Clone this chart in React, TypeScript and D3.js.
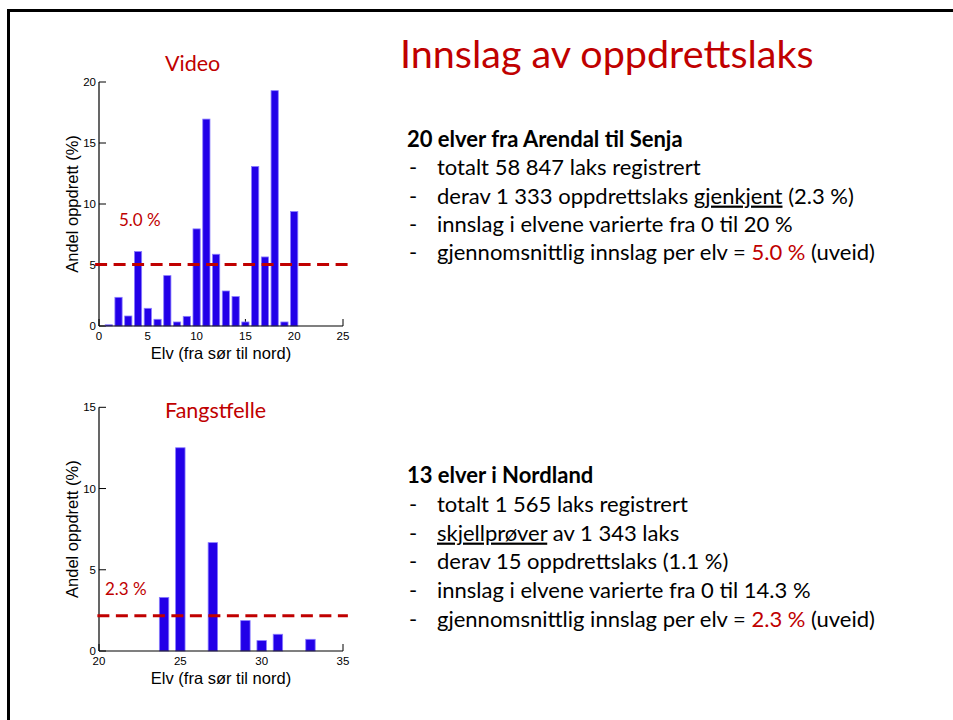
import React from "react";
import * as d3 from "d3";

// ---- Data ----
const videoRivers = [1, 2, 3, 4, 5, 6, 7, 8, 9, 10, 11, 12, 13, 14, 15, 16, 17, 18, 19, 20];
const videoValues = [0.1, 2.35, 0.82, 6.1, 1.45, 0.55, 4.13, 0.33, 0.79, 7.96, 16.96, 5.88, 2.87, 2.41, 0.33, 13.08, 5.66, 19.29, 0.33, 9.38];
const videoMean = 5.05;
const videoXTicks = [0, 5, 10, 15, 20, 25];
const videoYTicks = [0, 5, 10, 15, 20];

const trapRivers = [21, 22, 23, 24, 25, 26, 27, 28, 29, 30, 31, 32, 33];
const trapValues = [0, 0, 0, 3.3, 12.51, 0, 6.67, 0, 1.87, 0.64, 1.03, 0, 0.72];
const trapMean = 2.17;
const trapXTicks = [20, 25, 30, 35];
const trapYTicks = [0, 5, 10, 15];

const slideTitle = "Innslag av oppdrettslaks";

const block1Heading = "20 elver fra Arendal til Senja";
const block2Heading = "13 elver i Nordland";

const RED = "#c00000";
const BAR = "#2200e8";
const BAR_EDGE = "#8a7cff";
const SLIDE_FONT = "Lato, 'Open Sans', sans-serif";
const AX_FONT = "'Liberation Sans', Arial, sans-serif";

type ChartProps = {
  rivers: number[];
  values: number[];
  mean: number;
  xDomain: [number, number];
  yDomain: [number, number];
  xTicks: number[];
  yTicks: number[];
  yRange: [number, number];
  barWidth: number;
  meanFrom: number;
  meanTo: number;
  title: string;
  titleY: number;
  meanLabel: string;
  meanLabelPos: [number, number];
};

function BarChart(p: ChartProps) {
  const x = d3.scaleLinear().domain(p.xDomain).range([99, 343]);
  const y = d3.scaleLinear().domain(p.yDomain).range(p.yRange);
  const y0 = y(0);
  const bw = x(p.xDomain[0] + p.barWidth) - x(p.xDomain[0]);
  const tickLen = 7;
  const yMid = (p.yRange[0] + p.yRange[1]) / 2;
  return (
    <g>
      {/* ticks (under bars) */}
      {p.yTicks.map((t) => (
        <g key={"yt" + t}>
          <line x1={99} x2={99 + tickLen} y1={y(t)} y2={y(t)} stroke="#000" strokeWidth={1} />
          <text x={96} y={y(t)} dy="0.35em" textAnchor="end" fontFamily={AX_FONT} fontSize={11.5} fill="#000">
            {t}
          </text>
        </g>
      ))}
      {p.xTicks.map((t) => (
        <g key={"xt" + t}>
          <line x1={x(t)} x2={x(t)} y1={y0} y2={y0 - tickLen} stroke="#000" strokeWidth={1} />
          <text x={x(t)} y={y0 + 14} textAnchor="middle" fontFamily={AX_FONT} fontSize={11.5} fill="#000">
            {t}
          </text>
        </g>
      ))}
      {/* bars */}
      {p.rivers.map((r, i) => {
        const v = p.values[i];
        const top = y(v);
        return (
          <rect
            key={"b" + r}
            x={x(r) - bw / 2}
            y={top}
            width={bw}
            height={Math.max(0, y0 - top)}
            fill={BAR}
            stroke={BAR_EDGE}
            strokeWidth={0.8}
          />
        );
      })}
      {/* axis lines */}
      <line x1={99} x2={343} y1={y0} y2={y0} stroke="#000" strokeWidth={1.2} />
      <line x1={99} x2={99} y1={y0} y2={y(p.yDomain[1])} stroke="#000" strokeWidth={1.2} />
      {/* mean line */}
      <line
        x1={x(p.meanFrom)}
        x2={x(p.meanTo)}
        y1={y(p.mean)}
        y2={y(p.mean)}
        stroke={RED}
        strokeWidth={3}
        strokeDasharray="12,6.5"
      />
      <text x={p.meanLabelPos[0]} y={p.meanLabelPos[1]} fontFamily={SLIDE_FONT} fontSize={17} fill={RED}>
        {p.meanLabel}
      </text>
      {/* title */}
      <text x={165} y={p.titleY} fontFamily={SLIDE_FONT} fontSize={21.5} fill={RED}>
        {p.title}
      </text>
      {/* axis labels */}
      <text
        x={221}
        y={y0 + 33}
        textAnchor="middle"
        fontFamily={AX_FONT}
        fontSize={16.5}
        fill="#000"
      >
        Elv (fra sør til nord)
      </text>
      <text
        transform={`translate(78,${yMid}) rotate(-90)`}
        textAnchor="middle"
        fontFamily={AX_FONT}
        fontSize={16.5}
        fill="#000"
      >
        Andel oppdrett (%)
      </text>
    </g>
  );
}

function Bullet({ y, children }: { y: number; children: React.ReactNode }) {
  return (
    <g>
      <text x={409} y={y} fontFamily={SLIDE_FONT} fontSize={22} fill="#000">
        -
      </text>
      <text x={437} y={y} fontFamily={SLIDE_FONT} fontSize={22} fill="#000">
        {children}
      </text>
    </g>
  );
}

export default function App() {
  const top0 = 147;
  const step1 = 28.3;
  const bot0 = 483;
  const step2 = 28.8;
  return (
    <svg
      width={953}
      height={720}
      viewBox="0 0 953 720"
      style={{ position: "absolute", left: 0, top: 0, background: "#fff" }}
    >
      <rect x={0} y={0} width={953} height={720} fill="#fff" />
      {/* slide frame */}
      <line x1={7} x2={953} y1={10.5} y2={10.5} stroke="#000" strokeWidth={3} />
      <line x1={8.5} x2={8.5} y1={9} y2={720} stroke="#000" strokeWidth={3} />

      <text x={400} y={68} fontFamily={SLIDE_FONT} fontSize={39.5} fill={RED}>
        {slideTitle}
      </text>

      <BarChart
        rivers={videoRivers}
        values={videoValues}
        mean={videoMean}
        xDomain={[0, 25]}
        yDomain={[0, 20]}
        xTicks={videoXTicks}
        yTicks={videoYTicks}
        yRange={[326, 82]}
        barWidth={0.74}
        meanFrom={-0.4}
        meanTo={25.5}
        title="Video"
        titleY={71}
        meanLabel="5.0 %"
        meanLabelPos={[119, 226]}
      />
      <BarChart
        rivers={trapRivers}
        values={trapValues}
        mean={trapMean}
        xDomain={[20, 35]}
        yDomain={[0, 15]}
        xTicks={trapXTicks}
        yTicks={trapYTicks}
        yRange={[651, 407.3]}
        barWidth={0.58}
        meanFrom={19.9}
        meanTo={35.3}
        title="Fangstfelle"
        titleY={418}
        meanLabel="2.3 %"
        meanLabelPos={[105, 595]}
      />

      {/* text block 1 */}
      <text x={407} y={top0} fontFamily={SLIDE_FONT} fontSize={22} fontWeight="bold" fill="#000">
        {block1Heading}
      </text>
      <Bullet y={top0 + step1}>totalt 58 847 laks registrert</Bullet>
      <Bullet y={top0 + step1 * 2}>
        derav 1 333 oppdrettslaks <tspan style={{ textDecoration: "underline" }}>gjenkjent</tspan> (2.3 %)
      </Bullet>
      <Bullet y={top0 + step1 * 3}>innslag i elvene varierte fra 0 til 20 %</Bullet>
      <Bullet y={top0 + step1 * 4}>
        gjennomsnittlig innslag per elv = <tspan fill={RED}>5.0 %</tspan> (uveid)
      </Bullet>

      {/* text block 2 */}
      <text x={407} y={bot0} fontFamily={SLIDE_FONT} fontSize={22} fontWeight="bold" fill="#000">
        {block2Heading}
      </text>
      <Bullet y={bot0 + step2}>totalt 1 565 laks registrert</Bullet>
      <Bullet y={bot0 + step2 * 2}>
        <tspan style={{ textDecoration: "underline" }}>skjellprøver</tspan> av 1 343 laks
      </Bullet>
      <Bullet y={bot0 + step2 * 3}>derav 15 oppdrettslaks (1.1 %)</Bullet>
      <Bullet y={bot0 + step2 * 4}>innslag i elvene varierte fra 0 til 14.3 %</Bullet>
      <Bullet y={bot0 + step2 * 5}>
        gjennomsnittlig innslag per elv = <tspan fill={RED}>2.3 %</tspan> (uveid)
      </Bullet>
    </svg>
  );
}
